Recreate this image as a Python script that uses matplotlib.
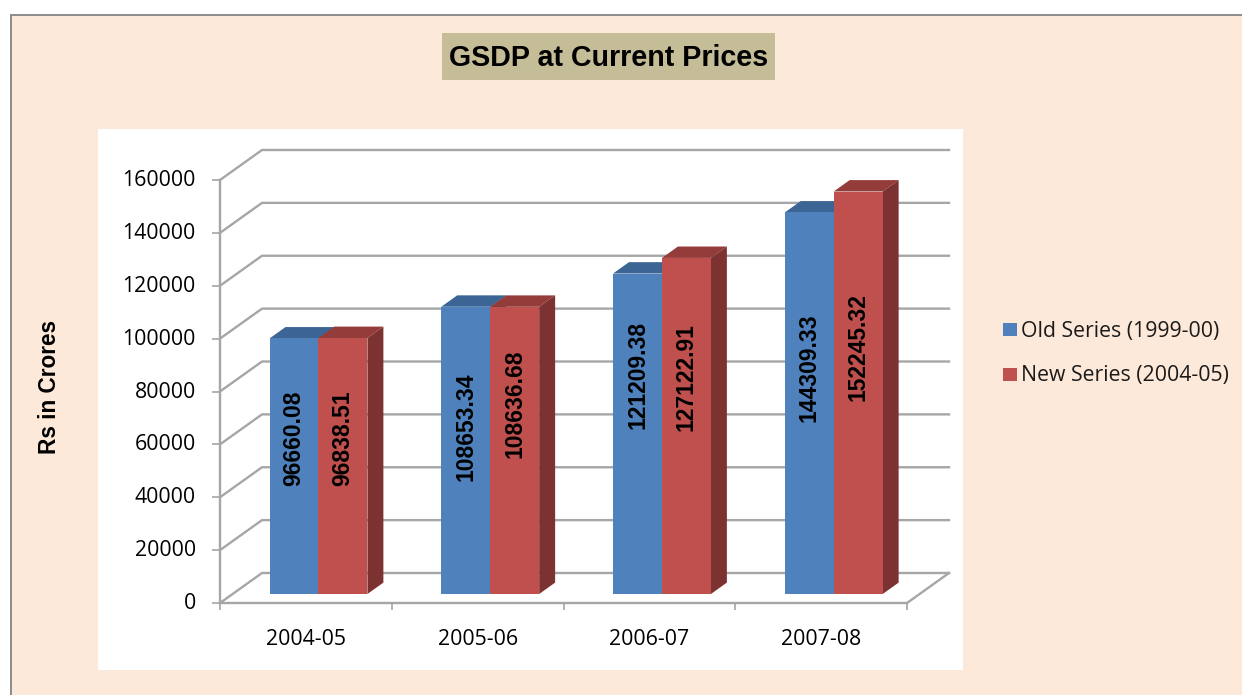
"""
GSDP at Current Prices: 3D look clustered bars, drawn on plain 2D axes.
"""
import matplotlib
matplotlib.use('Agg')
import matplotlib.pyplot as plt
from matplotlib.patches import Rectangle
from matplotlib.transforms import ScaledTranslation

# Chart data
years = ['2004-05', '2005-06', '2006-07', '2007-08']
old_series = [96660.08, 108653.34, 121209.38, 144309.33]
new_series = [96838.51, 108636.68, 127122.91, 152245.32]
old_labels = ['96660.08', '108653.34', '121209.38', '144309.33']
new_labels = ['96838.51', '108636.68', '127122.91', '152245.32']
y_ticks = [0, 20000, 40000, 60000, 80000, 100000, 120000, 140000, 160000]

W, H = 1242, 695
PLOT_LEFT, PLOT_RIGHT, PLOT_BOTTOM, PLOT_TOP = 220, 907, 603, 180
DEPTH_X_PX, DEPTH_Y_PX = 42, 30
BAR_DEPTH_START = 0.30
BAR_DEPTH = 0.38
BAR_WIDTH = 0.285

BLUE, BLUE_TOP, BLUE_SIDE = '#4F81BD', '#3C6494', '#2F4F78'
RED, RED_TOP, RED_SIDE = '#C0504D', '#943C3A', '#7C3230'
GRID = '#A6A6A6'

BODY_FONT = ['Open Sans', 'DejaVu Sans']
BOLD_FONT = ['Liberation Sans', 'DejaVu Sans']


def fig_box(x, y, w, h):
    """Convert a pixel box with top-left origin into figure fractions"""
    return x / W, 1 - (y + h) / H, w / W, h / H


def shifted(x, y, depth):
    """Move a data point back into the chart by a depth fraction"""
    x_per_px = 4 / (PLOT_RIGHT - PLOT_LEFT)
    y_per_px = 160000 / (PLOT_BOTTOM - PLOT_TOP)
    return x + depth * DEPTH_X_PX * x_per_px, y + depth * DEPTH_Y_PX * y_per_px


def draw_box(ax, x_left, value, front, top, side):
    """Draw one bar with its top and side faces"""
    z0, z1 = BAR_DEPTH_START, BAR_DEPTH_START + BAR_DEPTH
    x_right = x_left + BAR_WIDTH
    corners = [(x_left, value, z0), (x_right, value, z0), (x_right, value, z1), (x_left, value, z1)]
    ax.fill(*zip(*[shifted(*c) for c in corners]), color=top, lw=0, zorder=3, clip_on=False)
    corners = [(x_right, 0, z0), (x_right, value, z0), (x_right, value, z1), (x_right, 0, z1)]
    ax.fill(*zip(*[shifted(*c) for c in corners]), color=side, lw=0, zorder=3, clip_on=False)
    x0, base = shifted(x_left, 0, z0)
    ax.bar(x0, value, width=BAR_WIDTH, bottom=base, align='edge', color=front, lw=0, zorder=4, clip_on=False)


def page_rect(box, color, edge='none', lw=0):
    x, y, w, h = fig_box(*box)
    return Rectangle((x, y), w, h, transform=plt.gcf().transFigure, facecolor=color, edgecolor=edge, lw=lw, zorder=-1)


def main() -> None:
    fig = plt.figure(figsize=(W / 100, H / 100), dpi=100, facecolor='white')

    # Page background, white chart panel and title box
    fig.add_artist(page_rect((11, 15, W, H), '#FDE9D9', '#8C8C8C', 1.4))
    fig.add_artist(page_rect((98, 129, 865, 541), 'white'))
    fig.add_artist(page_rect((442, 33, 333, 47), '#C4BD97'))
    fig.text(608.5 / W, 1 - 58.5 / H, 'GSDP at Current Prices', ha='center', va='center',
             family=BOLD_FONT, fontweight='bold', fontsize=20.6, color='black')

    ax = fig.add_axes(fig_box(PLOT_LEFT, PLOT_TOP, PLOT_RIGHT - PLOT_LEFT, PLOT_BOTTOM - PLOT_TOP))
    ax.patch.set_visible(False)

    # Back wall grid, side wall diagonals and floor edge
    for tick in y_ticks:
        x0, y0 = shifted(0, tick, 0)
        x1, y1 = shifted(0, tick, 1)
        x2, y2 = shifted(4, tick, 1)
        ax.plot([x0, x1, x2], [y0, y1, y2], color=GRID, lw=1.7, zorder=1, clip_on=False)
    x1, y1 = shifted(4, 0, 1)
    ax.plot([4, x1], [0, y1], color=GRID, lw=1.7, zorder=1, clip_on=False)

    # Bars
    for i in range(len(years)):
        x_old = i + 0.5 - BAR_WIDTH
        x_new = x_old + BAR_WIDTH
        draw_box(ax, x_old, old_series[i], BLUE, BLUE_TOP, BLUE_SIDE)
        draw_box(ax, x_new, new_series[i], RED, RED_TOP, RED_SIDE)

    # Data labels sit at their own heights inside the bars
    old_label_heights = [59000, 63170, 82840, 85480]
    new_label_heights = [59000, 71870, 82080, 93430]
    for i in range(len(years)):
        x_old = i + 0.5 - BAR_WIDTH
        for x_left, height, text in [(x_old, old_label_heights[i], old_labels[i]),
                                     (x_old + BAR_WIDTH, new_label_heights[i], new_labels[i])]:
            tx, ty = shifted(x_left + BAR_WIDTH / 2, height, BAR_DEPTH_START)
            ax.text(tx, ty, text, rotation=90, ha='center', va='center', family=BOLD_FONT,
                    fontweight='bold', fontsize=16.5, color='black', zorder=5)

    # Axes
    ax.set_xlim(0, 4)
    ax.set_ylim(0, 160000)
    for name in ['top', 'right']:
        ax.spines[name].set_visible(False)
    for name in ['left', 'bottom']:
        ax.spines[name].set_color(GRID)
        ax.spines[name].set_linewidth(1.7)
        ax.spines[name].set_zorder(2)
    ax.set_yticks(y_ticks)
    ax.set_yticklabels([str(t) for t in y_ticks], family=BODY_FONT, fontsize=15.3)
    ax.set_xticks(range(5))
    ax.set_xticklabels([])
    ax.set_xticks([i + 0.5 for i in range(len(years))], minor=True)
    ax.set_xticklabels(years, minor=True, family=BODY_FONT, fontsize=15.3)
    ax.tick_params(axis='y', length=5.5, width=1.2, color=GRID, pad=12)
    ax.tick_params(axis='x', which='major', length=5, width=1.2, color=GRID)
    ax.tick_params(axis='x', which='minor', length=0, pad=19)

    # Raise the y tick labels slightly above their ticks
    lift = ScaledTranslation(0, 2 / 100, fig.dpi_scale_trans)
    for label in ax.get_yticklabels():
        label.set_transform(label.get_transform() + lift)

    fig.text(50 / W, 1 - 387 / H, 'Rs in Crores', rotation=90, ha='center', va='center',
             family=BOLD_FONT, fontweight='bold', fontsize=16.3, color='black')

    # Legend
    for label, color, y_mid in [('Old Series (1999-00)', BLUE, 329.5), ('New Series (2004-05)', RED, 374.5)]:
        fig.add_artist(page_rect((1003, y_mid - 6.5, 14, 13), color))
        fig.text(1021 / W, 1 - (y_mid + 1.5) / H, label, ha='left', va='center', family=BODY_FONT, fontsize=15.3, color='#1A1A1A')

    fig.savefig('out.png', dpi=100)


if __name__ == '__main__':
    main()
